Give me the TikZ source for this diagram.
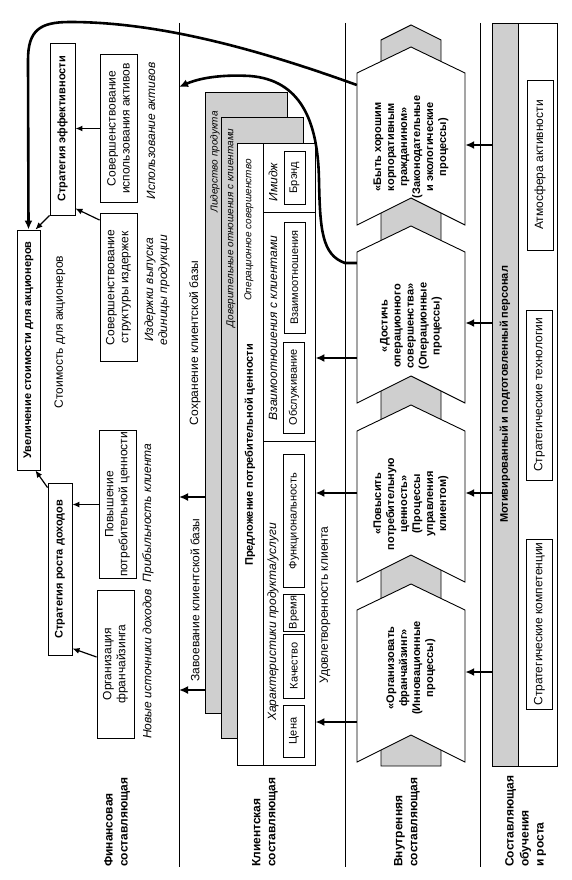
\documentclass[tikz,border=0pt]{standalone}
\usepackage{fontspec}
\setmainfont{Liberation Sans}
\usetikzlibrary{arrows.meta}

\begin{document}
\begin{tikzpicture}[x=1pt,y=-1pt,
    box/.style={draw, line width=0.9pt, rotate=90, align=center, inner sep=1pt, font=\fontsize{12}{14}\selectfont},
    head/.style={box, font=\bfseries\fontsize{11}{13}\selectfont},
    note/.style={rotate=90, align=center, inner sep=0pt, font=\itshape\fontsize{12}{14}\selectfont},
    plain/.style={rotate=90, align=center, inner sep=0pt, font=\fontsize{12}{14}\selectfont},
    tiny/.style={rotate=90, align=center, inner sep=0pt, font=\itshape\fontsize{10}{12}\selectfont},
    proc/.style={rotate=90, align=center, inner sep=0pt, minimum width=150pt, minimum height=108pt, font=\bfseries\fontsize{11}{13}\selectfont},
    halftone/.style={fill=gray!38},
    arr/.style={-{Latex[length=7pt,width=6pt]}, line width=1.2pt},
    bigarr/.style={-{Latex[length=9pt,width=8pt]}, line width=2.6pt}]

  \useasboundingbox (0,0) rectangle (571,880);

  \coordinate (a1) at (179,23);  \coordinate (b1) at (179,867);
  \coordinate (a2) at (345,23);  \coordinate (b2) at (345,867);
  \coordinate (a3) at (480,23);  \coordinate (b3) at (480,867);
  \draw[line width=0.8pt] (a1) -- (b1);
  \draw[line width=0.8pt] (a2) -- (b2);
  \draw[line width=0.8pt] (a3) -- (b3);

  \begin{scope}[every node/.style={rotate=90, anchor=north west, align=left, inner sep=0pt, font=\bfseries\fontsize{12}{15}\selectfont}]
    \node (fin) at (104,867) {Финансовая\\составляющая};
    \node (cli) at (252,867) {Клиентская\\составляющая};
    \node (int) at (394,867) {Внутренняя\\составляющая};
    \node (lrn) at (505,867) {Составляющая\\обучения\\и роста};
  \end{scope}

  \node[head, minimum width=240pt, minimum height=23pt] (1) at (28.5,350) {Увеличение стоимости для акционеров};
  \node[plain] (2) at (60,332) {Стоимость для акционеров};
  \node[head, minimum width=172pt, minimum height=25pt] (3) at (62.5,129) {Стратегия эффективности};
  \node[head, minimum width=172pt, minimum height=24pt] (4) at (60,569) {Стратегия роста доходов};

  \begin{scope}[every node/.style={box, minimum width=148pt, minimum height=37pt}]
    \node (5) at (118.5,128.5) {Совершенствование\\использования активов};
    \node (6) at (118.5,287.5) {Совершенствование\\структуры издержек};
    \node (7) at (117.5,504.5) {Повышение\\потребительной ценности};
    \node (8) at (115.5,664) {Организация\\франчайзинга};
  \end{scope}

  \node[note] (9) at (151,131) {Использование активов};
  \node[note] (10) at (157,290) {Издержки выпуска\\единицы продукции};
  \node[note] (11) at (148,513) {Прибыльность клиента};
  \node[note] (12) at (147,664) {Новые источники доходов};

  \draw[arr] (5.north) -- (5.north -| 3.south);
  \draw[arr] ([yshift=-7pt]6.north east) -- ([yshift=7pt]3.south west);
  \draw[arr] (7.north) -- (7.north -| 4.south);
  \draw[arr] ([yshift=7pt]8.north) -- ([yshift=7pt]4.south west);
  \draw[arr] (3.north west) -- ([xshift=-5pt]1.south east);
  \draw[arr] ([yshift=-5pt]4.north east) -- ([xshift=-5pt]1.south west);

  \node[draw, line width=0.9pt, halftone, rotate=90, minimum width=621pt, minimum height=82pt] (back) at (246,402.5) {};
  \node[draw, line width=0.9pt, halftone, rotate=90, minimum width=621pt, minimum height=82pt] (mid) at (262,427.5) {};
  \node[draw, line width=0.9pt, fill=white, rotate=90, minimum width=622pt, minimum height=78pt] (front) at (276,454) {};
  \draw[line width=0.9pt] (263,143) -- (263,765);
  \draw[line width=0.9pt] (263,212) -- (315,212);
  \draw[line width=0.9pt] (263,441) -- (315,441);

  \node[tiny] (13) at (215,162) {Лидерство продукта};
  \node[tiny] (14) at (231,228) {Доверительные отношения с клиентами};
  \node[tiny] (15) at (249,230) {Операционное совершенство};
  \node[rotate=90, inner sep=0pt, font=\bfseries\fontsize{11}{13}\selectfont] (16) at (250,455) {Предложение потребительной ценности};

  \node[note] (17) at (273,182) {Имидж};
  \node[note] (18) at (273,328) {Взаимоотношения с клиентами};
  \node[note] (19) at (273,622) {Характеристики продукта/услуги};

  \begin{scope}[every node/.style={box, minimum height=21pt, inner sep=0.5pt, font=\fontsize{11}{13}\selectfont}]
    \node[minimum width=53pt] (20) at (294.5,177.5) {Брэнд};
    \node[minimum width=111pt] (21) at (294.5,277.5) {Взаимоотношения};
    \node[minimum width=91pt] (22) at (294,387.5) {Обслуживание};
    \node[minimum width=133pt] (23) at (294,521) {Функциональность};
    \node[minimum width=37pt] (24) at (294,612.5) {Время};
    \node[minimum width=64pt] (25) at (294,666) {Качество};
    \node[minimum width=52pt] (26) at (294,731) {Цена};
  \end{scope}

  \node[plain] (27) at (325,605) {Удовлетворенность клиента};
  \node[plain] (28) at (195,343) {Сохранение клиентской базы};
  \node[plain] (29) at (195,600) {Завоевание клиентской базы};

  \coordinate (c1) at (179,497);
  \coordinate (c2) at (179,690);
  \draw[bigarr] (back.north |- c1) -- (c1);
  \draw[bigarr] (back.north |- c2) -- (c2);

  \draw[line width=0.9pt, halftone] (381,766) -- (381,40) -- (411,25) -- (441,40) -- (441,766) -- cycle;
  \draw[line width=0.9pt, fill=white] (357,225) -- (357,73) -- (411,47) -- (465,73) -- (465,225) -- (411,198) -- cycle;
  \draw[line width=0.9pt, fill=white] (357,403) -- (357,252) -- (411,226) -- (465,252) -- (465,403) -- (411,376) -- cycle;
  \draw[line width=0.9pt, fill=white] (357,582) -- (357,431) -- (411,405) -- (465,431) -- (465,582) -- (411,555) -- cycle;
  \draw[line width=0.9pt, fill=white] (357,762) -- (357,610) -- (411,584) -- (465,610) -- (465,762) -- (411,735) -- cycle;

  \node[proc] (ch4) at (411,147) {«Быть хорошим\\корпоративным\\гражданином»\\(Законодательные\\и экологические\\процессы)};
  \node[proc] (ch3) at (411,326) {«Достичь\\операционного\\совершенства»\\(Операционные\\процессы)};
  \node[proc] (ch2) at (411,504) {«Повысить\\потребительную\\ценность»\\(Процессы\\управления\\клиентом)};
  \node[proc] (ch1) at (411,668) {«Организовать\\франчайзинг»\\(Инновационные\\процессы)};

  \node[draw, line width=0.9pt, rotate=90, minimum width=743pt, minimum height=65pt] (learn) at (524.5,394.5) {};
  \node[draw, line width=0.9pt, halftone, rotate=90, minimum width=743pt, minimum height=26pt, font=\bfseries\fontsize{11}{13}\selectfont] (staff) at (505,394.5) {Мотивированный и подготовленный персонал};
  \begin{scope}[every node/.style={box, minimum width=170pt, minimum height=26pt}]
    \node (30) at (540,165) {Атмосфера активности};
    \node (31) at (539.5,395) {Стратегические технологии};
    \node (32) at (539.5,624) {Стратегические компетенции};
  \end{scope}

  \coordinate (r4) at ([yshift=2pt]ch4.south);
  \coordinate (r3) at ([yshift=3pt]ch3.south);
  \coordinate (r2) at ([yshift=11pt]ch2.south);
  \coordinate (r1) at ([yshift=-4pt]ch1.south);
  \draw[bigarr] (staff.north |- r4) -- (r4);
  \draw[bigarr] (staff.north |- r3) -- (r3);
  \draw[bigarr] (staff.north |- r2) -- (r2);
  \draw[bigarr] (staff.north |- r1) -- (r1);

  \coordinate (l3) at ([yshift=-32pt]ch3.north);
  \coordinate (l2) at ([yshift=11pt]ch2.north);
  \coordinate (l1) at ([yshift=-54pt]ch1.north);
  \draw[bigarr] (l3) -- (l3 -| front.south);
  \draw[bigarr] (l2) -- (l2 -| front.south);
  \draw[bigarr] (l1) -- (l1 -| front.south);

  \coordinate (t1) at (179,87);
  \draw[bigarr] ([yshift=62pt]ch4.north) .. controls (260,50) and (160,22) .. (70,22)
    .. controls (40,22) and (28,30) .. (28,60) -- (1.east);
  \draw[bigarr] ([yshift=63pt]ch3.north) -- (345,263) .. controls (322,255) and (320,230) .. (319,180)
    .. controls (318,120) and (300,80) .. (250,76) .. controls (215,74) and (195,80) .. (t1);

\end{tikzpicture}
\end{document}
